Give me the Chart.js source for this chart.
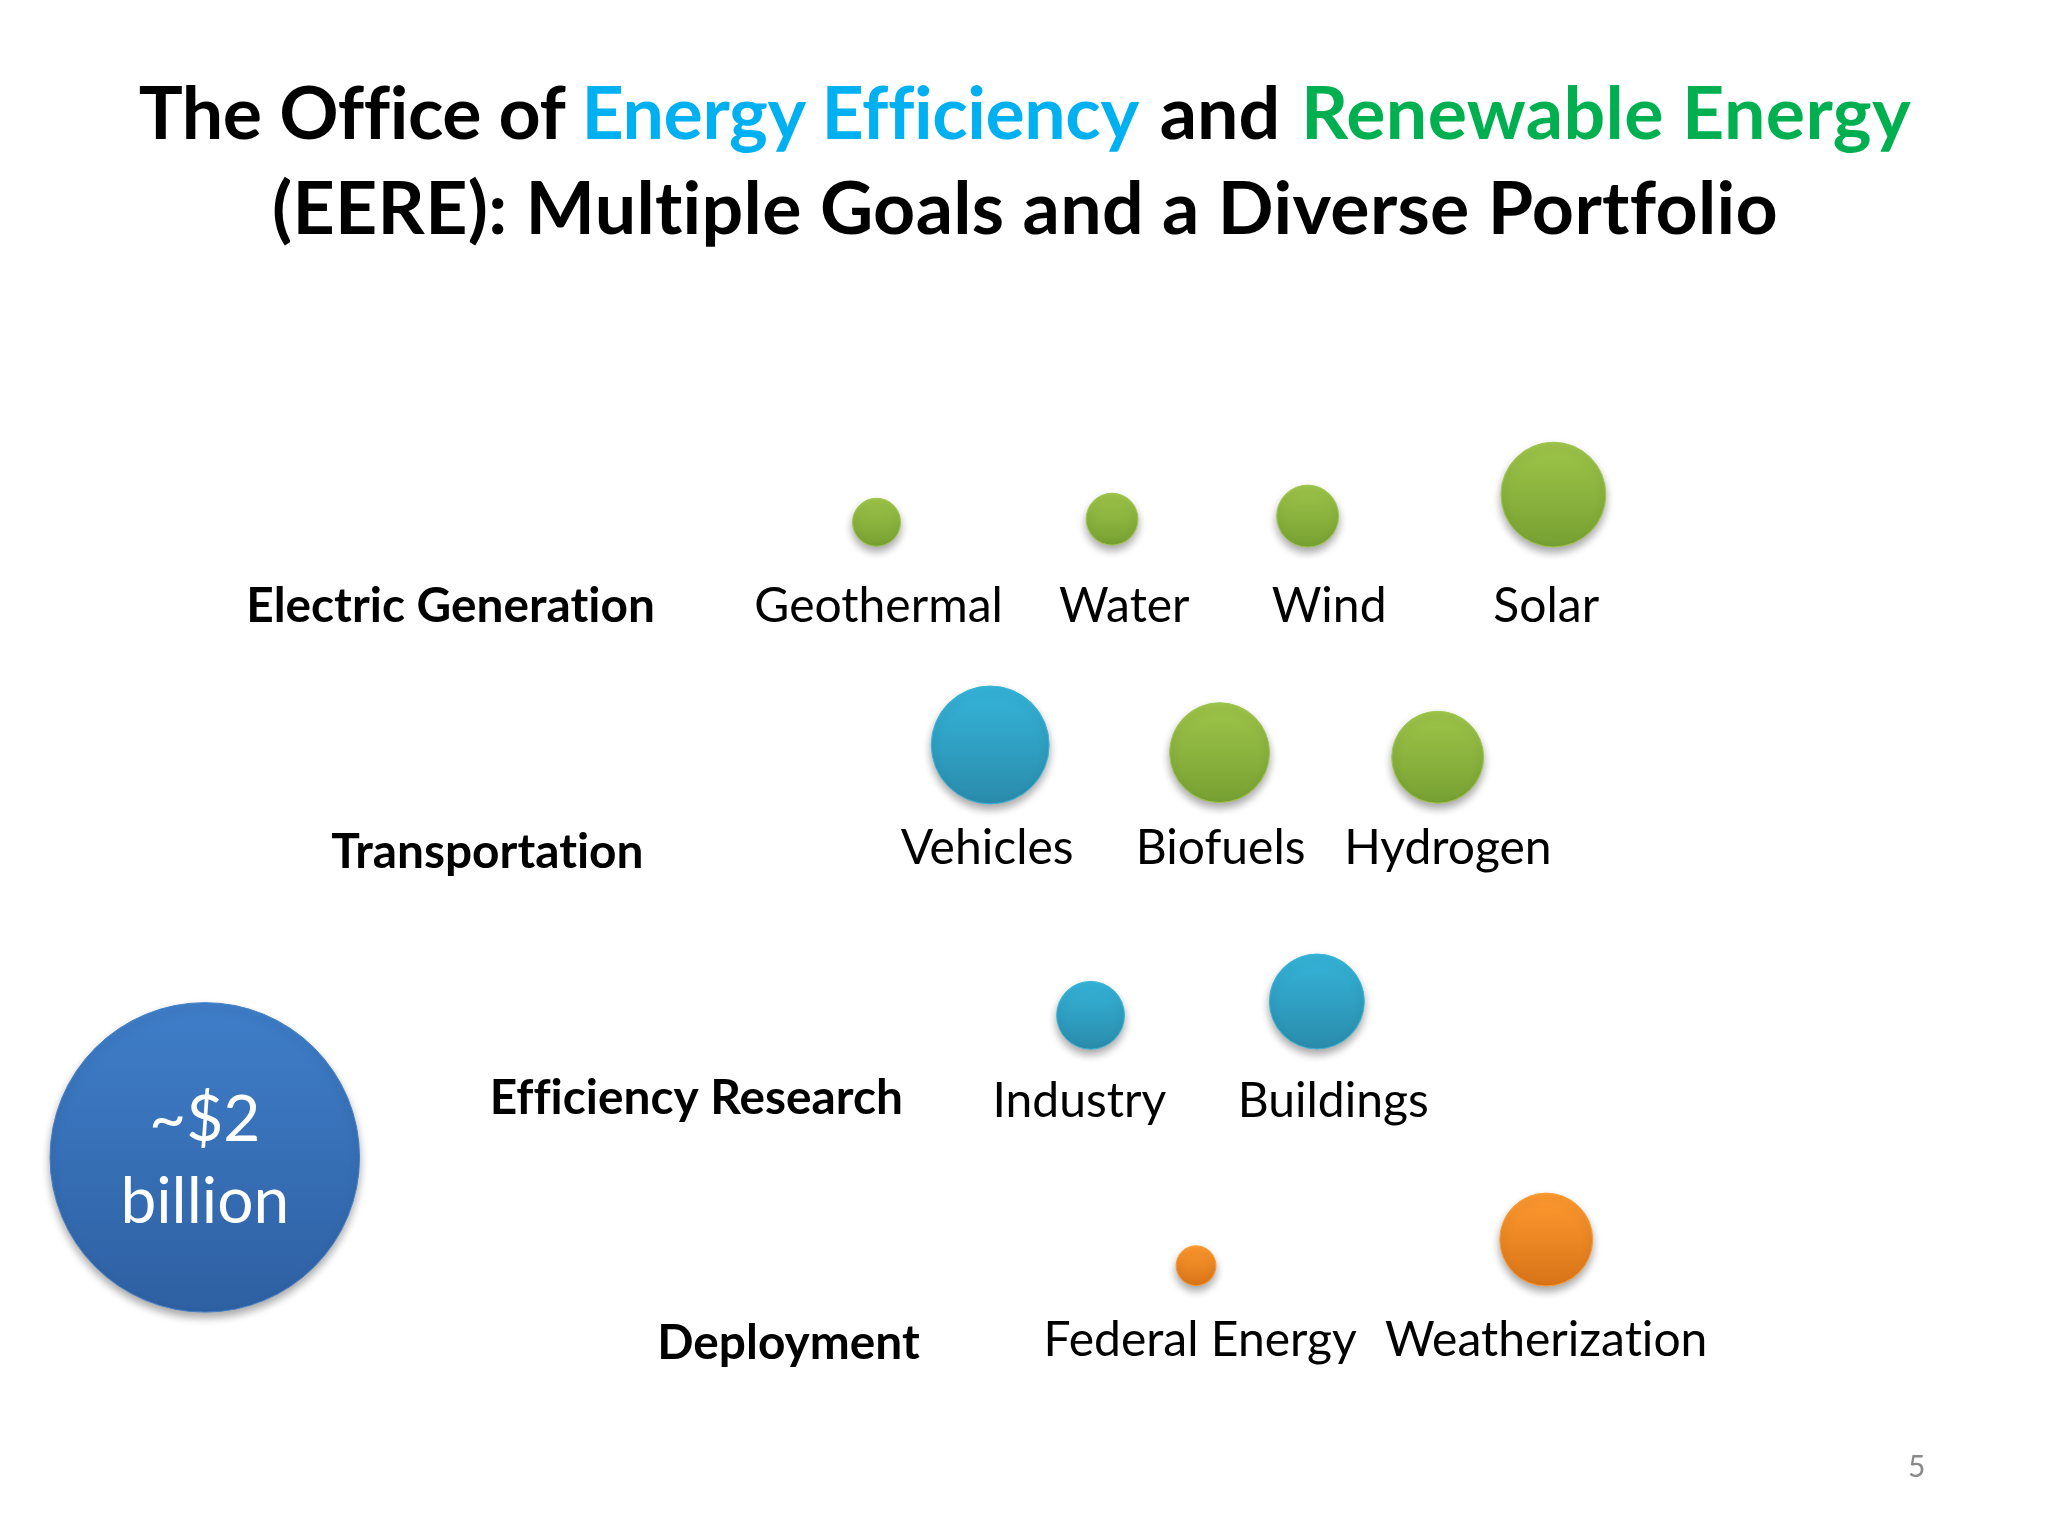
<!DOCTYPE html>
<html>
<head>
<meta charset="utf-8">
<title>EERE portfolio</title>
<script src="https://cdn.jsdelivr.net/npm/chart.js@4/dist/chart.umd.js"></script>
<style>
  html, body { margin: 0; padding: 0; background: #fff; }
  #slide { position: relative; width: 2048px; height: 1536px; overflow: hidden; }
  #slide canvas { position: absolute; left: 0; top: 0; }
  h1 {
    position: absolute; left: 0; top: 63px; width: 2050px; margin: 0;
    text-align: center; color: #000;
    font: bold 73.5px/95px Lato, sans-serif;
    font-variant-ligatures: none;
  }
  .lead { letter-spacing: -0.4px; }
  .eff { color: #00b0f0; letter-spacing: -0.4px; }
  .and { word-spacing: 3px; }
  .ren { color: #00b050; letter-spacing: 0.4px; }
  .second { letter-spacing: 0.3px; }
  #page { position: absolute; left: 1908px; top: 1447px; color: #8a8a8a; font: 30px Lato, sans-serif; }
</style>
</head>
<body>
<div id="slide">
  <canvas id="chart" width="2048" height="1536"></canvas>
  <h1><span class="lead">The Office of </span><span class="eff">Energy Efficiency</span><span class="and"> and </span><span class="ren">Renewable Energy</span><br><span class="second">(EERE): Multiple Goals and a Diverse Portfolio</span></h1>
  <div id="page">5</div>
</div>
<script>
// Programs, left to right and row by row
const programs = ["Geothermal", "Water", "Wind", "Solar", "Vehicles", "Biofuels", "Hydrogen", "Industry", "Buildings", "Federal Energy", "Weatherization"];
// Budget in $M, estimated from bubble area against the ~$2 billion circle
const budgets = [48, 56, 80, 229, 290, 208, 176, 96, 188, 33, 180];
const programColors = ["green", "green", "green", "green", "blue", "green", "green", "blue", "blue", "orange", "orange"];
// Where each bubble sits, in percent of slide width / height
const bubbleX = [42.8, 54.3, 63.85, 75.85, 48.35, 59.55, 70.2, 53.25, 64.3, 58.4, 75.5];
const bubbleY = [34.0, 33.8, 33.6, 32.2, 48.5, 49.0, 49.3, 66.1, 65.2, 82.4, 80.7];
const labelX = [42.9, 54.9, 64.9, 75.5, 48.2, 59.6, 70.7, 52.7, 65.1, 58.6, 75.5];
const labelY = [39.5, 39.5, 39.5, 39.5, 55.25, 55.25, 55.25, 71.7, 71.7, 87.3, 87.3];

const rows = ["Electric Generation", "Transportation", "Efficiency Research", "Deployment"];
const rowX = [22.0, 23.8, 34.0, 38.5];
const rowY = [39.5, 55.5, 71.5, 87.5];

const totalBudget = [2000];
const totalX = [10.0];
const totalY = [75.35];
const totalText = ["~$2", "billion"];
const totalTextY = [72.95, 78.25];

const gradients = {
    green: ["#9fc64a", "#76a032"],
    blue: ["#35b5da", "#2a8bab"],
    orange: ["#ff9a30", "#d87418"],
    navy: ["#3f7ec9", "#2e60a2"]
};

const RADIUS_PER_SQRT = 3.46;

function bubblePoints(xs, ys, values) {
    return values.map((v, i) => ({ x: xs[i], y: ys[i], r: Math.sqrt(v) * RADIUS_PER_SQRT }));
}

// Vertical gradient across one bubble
function bubbleFill(colorOf) {
    return function (context) {
        const chart = context.chart;
        const raw = context.raw;
        const stops = gradients[colorOf(context.dataIndex)];
        if (!raw) return stops[0];
        const cy = chart.scales.y.getPixelForValue(raw.y);
        // scales have no size yet on the first pass
        if (!isFinite(cy)) return stops[0];
        const grad = chart.ctx.createLinearGradient(0, cy - raw.r, 0, cy + raw.r);
        grad.addColorStop(0, stops[0]);
        grad.addColorStop(1, stops[1]);
        return grad;
    };
}

const bubbleShadow = {
    id: "bubbleShadow",
    beforeDatasetsDraw(chart) {
        const ctx = chart.ctx;
        ctx.save();
        ctx.shadowColor = "rgba(0,0,0,0.35)";
        ctx.shadowBlur = 9;
        ctx.shadowOffsetY = 5;
    },
    afterDatasetsDraw(chart) {
        chart.ctx.restore();
    }
};

const slideLabels = {
    id: "slideLabels",
    afterDraw(chart) {
        const ctx = chart.ctx;
        const sx = chart.scales.x;
        const sy = chart.scales.y;
        ctx.save();
        ctx.textAlign = "center";
        ctx.textBaseline = "middle";
        // any spacing at all switches the Lato ti / tt ligatures off
        ctx.letterSpacing = "0.01px";

        ctx.fillStyle = "#000";
        ctx.font = "48px Lato, sans-serif";
        programs.forEach((name, i) => {
            ctx.fillText(name, sx.getPixelForValue(labelX[i]), sy.getPixelForValue(labelY[i]));
        });

        ctx.font = "bold 47.8px Lato, sans-serif";
        rows.forEach((name, i) => {
            ctx.fillText(name, sx.getPixelForValue(rowX[i]), sy.getPixelForValue(rowY[i]));
        });

        ctx.fillStyle = "#fff";
        ctx.font = "64px Lato, sans-serif";
        totalText.forEach((line, i) => {
            ctx.fillText(line, sx.getPixelForValue(totalX[0]), sy.getPixelForValue(totalTextY[i]));
        });
        ctx.restore();
    }
};

new Chart(document.getElementById("chart"), {
    type: "bubble",
    data: {
        datasets: [
            {
                label: "Total",
                data: bubblePoints(totalX, totalY, totalBudget),
                backgroundColor: bubbleFill(() => "navy"),
                borderColor: gradients.navy[0],
                borderWidth: 1
            },
            {
                label: "Programs",
                data: bubblePoints(bubbleX, bubbleY, budgets),
                backgroundColor: bubbleFill(i => programColors[i]),
                borderColor: context => gradients[programColors[context.dataIndex]][0],
                borderWidth: 1
            }
        ]
    },
    options: {
        responsive: false,
        animation: false,
        layout: { padding: 0, autoPadding: false },
        plugins: { legend: { display: false }, tooltip: { enabled: false } },
        scales: {
            x: { type: "linear", min: 0, max: 100, display: false },
            y: { type: "linear", min: 0, max: 100, reverse: true, display: false }
        }
    },
    plugins: [bubbleShadow, slideLabels]
});
</script>
</body>
</html>
